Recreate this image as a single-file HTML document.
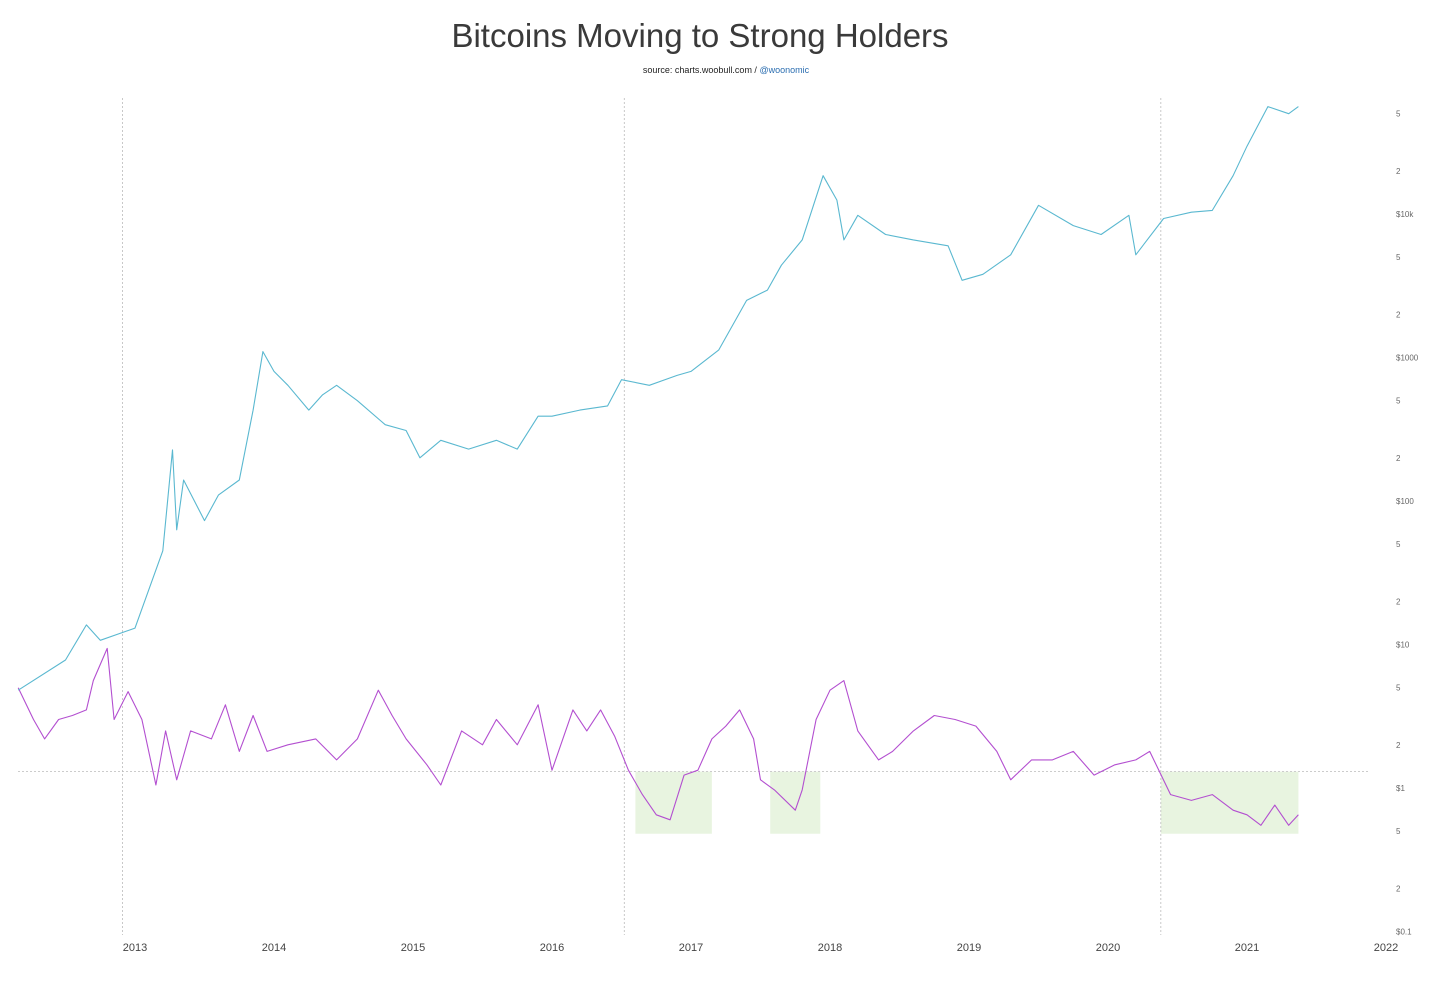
<!DOCTYPE html>
<html><head><meta charset="utf-8"><style>
body{margin:0;background:#fff;}
svg text{font-family:"Liberation Sans",sans-serif;}
</style></head><body>
<svg id="chart" width="1429" height="979" xmlns="http://www.w3.org/2000/svg">
<text x="700" y="47" text-anchor="middle" font-size="33" fill="#3a3a3a" font-weight="300">Bitcoins Moving to Strong Holders</text>
<text x="726" y="73" text-anchor="middle" font-size="9" fill="#222">source: charts.woobull.com / <tspan fill="#2a6db0">@woonomic</tspan></text>
<g id="bands"></g><g id="grid"></g><g id="axes"></g><g id="lines"></g>
</svg>
<script>
const years=[2013,2014,2015,2016,2017,2018,2019,2020,2021,2022];
const priceTicks=[0.1,0.2,0.5,1,2,5,10,20,50,100,200,500,1000,2000,5000,10000,20000,50000];
const priceTickLabels=['$0.1','2','5','$1','2','5','$10','2','5','$100','2','5','$1000','2','5','$10k','2','5'];
const halvings=[2012.91,2016.52,2020.38];
const strongZones=[[2016.6,2017.15],[2017.57,2017.93],[2020.38,2021.37]];
const thresholdLevel=1.3;
const zoneFloor=0.48;
const priceDates=[2012.16,2012.5,2012.65,2012.75,2013.0,2013.2,2013.27,2013.3,2013.35,2013.5,2013.6,2013.75,2013.85,2013.92,2014.0,2014.1,2014.25,2014.35,2014.45,2014.6,2014.8,2014.95,2015.05,2015.2,2015.4,2015.6,2015.75,2015.9,2016.0,2016.2,2016.4,2016.5,2016.7,2016.9,2017.0,2017.2,2017.4,2017.55,2017.65,2017.8,2017.95,2018.05,2018.1,2018.2,2018.4,2018.6,2018.85,2018.95,2019.1,2019.3,2019.5,2019.75,2019.95,2020.15,2020.2,2020.4,2020.6,2020.75,2020.9,2021.0,2021.15,2021.3,2021.37];
const priceValues=[4.8,7.8,13.7,10.7,13,45,227,63,140,73,110,140,430,1100,800,640,430,550,640,500,340,310,200,265,230,265,230,390,390,430,460,700,640,750,800,1130,2500,2950,4400,6600,18500,12500,6600,9800,7200,6600,6000,3450,3800,5200,11500,8300,7200,9800,5200,9300,10300,10600,18500,29700,56000,50000,56000];
const ratioDates=[2012.16,2012.27,2012.35,2012.45,2012.55,2012.65,2012.7,2012.8,2012.85,2012.95,2013.05,2013.15,2013.22,2013.3,2013.4,2013.55,2013.65,2013.75,2013.85,2013.95,2014.1,2014.3,2014.45,2014.6,2014.75,2014.85,2014.95,2015.1,2015.2,2015.35,2015.5,2015.6,2015.75,2015.9,2016.0,2016.15,2016.25,2016.35,2016.45,2016.55,2016.65,2016.75,2016.85,2016.95,2017.05,2017.15,2017.25,2017.35,2017.45,2017.5,2017.6,2017.75,2017.8,2017.9,2018.0,2018.1,2018.2,2018.35,2018.45,2018.6,2018.75,2018.9,2019.05,2019.2,2019.3,2019.45,2019.6,2019.75,2019.9,2020.05,2020.2,2020.3,2020.45,2020.6,2020.75,2020.9,2021.0,2021.1,2021.2,2021.3,2021.37];
const ratioValues=[5,3,2.2,3,3.2,3.5,5.6,9.4,3,4.7,3,1.05,2.5,1.14,2.5,2.2,3.8,1.8,3.2,1.8,2,2.2,1.57,2.2,4.8,3.2,2.2,1.45,1.05,2.5,2,3,2,3.8,1.33,3.5,2.5,3.5,2.3,1.33,0.9,0.65,0.6,1.23,1.33,2.2,2.7,3.5,2.2,1.14,0.97,0.7,0.97,3,4.8,5.6,2.5,1.57,1.8,2.5,3.2,3,2.7,1.8,1.14,1.57,1.57,1.8,1.23,1.45,1.57,1.8,0.9,0.82,0.9,0.7,0.65,0.55,0.76,0.55,0.65];

const NS='http://www.w3.org/2000/svg';
const X=t=>135+(t-2013)*139;
const Y=v=>788-143.5*Math.log10(v);
function mk(tag,parent,attrs){const e=document.createElementNS(NS,tag);for(const k in attrs)e.setAttribute(k,attrs[k]);document.getElementById(parent).appendChild(e);return e;}

strongZones.forEach(z=>{const r=mk('rect','bands',{x:X(z[0]),y:Y(thresholdLevel),width:X(z[1])-X(z[0]),height:Y(zoneFloor)-Y(thresholdLevel),fill:'#e8f4e0'});

});
halvings.forEach(h=>{const l=mk('line','grid',{x1:X(h),x2:X(h),y1:98,y2:935,stroke:'#bbb','stroke-dasharray':'2,2','stroke-width':0.8});

});
const th=mk('line','grid',{x1:18,x2:1368,y1:Y(thresholdLevel),y2:Y(thresholdLevel),stroke:'#bbb','stroke-dasharray':'2,2','stroke-width':0.8});


years.forEach(y=>{const t=mk('text','axes',{x:X(y),y:951,'text-anchor':'middle','font-size':11,fill:'#444'});t.textContent=y;

});
priceTicks.forEach((v,i)=>{const t=mk('text','axes',{x:1396,y:Y(v)+3,'font-size':8,fill:'#666'});t.textContent=priceTickLabels[i];

});
function path(d,v,color,name){const p=mk('path','lines',{d:d.map((t,i)=>(i?'L':'M')+X(t).toFixed(1)+','+Y(v[i]).toFixed(1)).join(''),fill:'none',stroke:color,'stroke-width':1.1,'stroke-linejoin':'round'});

}
path(ratioDates,ratioValues,'#b34fd0','strong-holder-ratio-line');
path(priceDates,priceValues,'#5ab8d0','btc-price-line');
</script>
</body></html>
